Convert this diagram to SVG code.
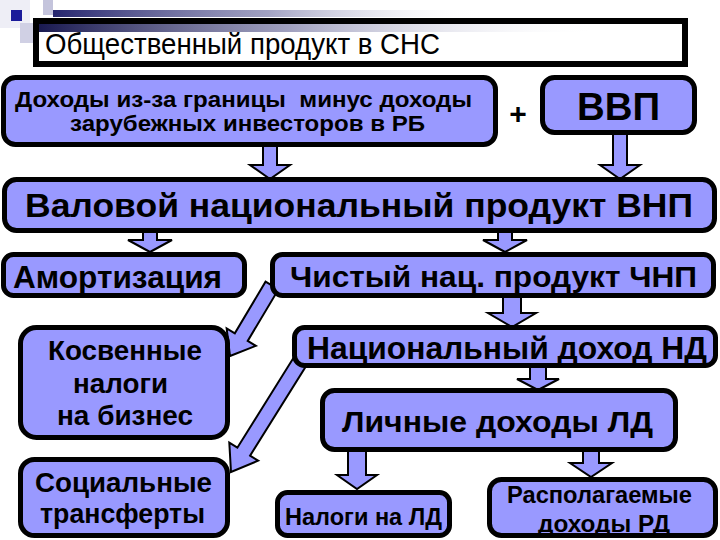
<svg xmlns="http://www.w3.org/2000/svg" width="720" height="540" viewBox="0 0 720 540">
<defs>
<linearGradient id="gTop" x1="0" y1="0" x2="1" y2="0">
<stop offset="0" stop-color="#26266e"/>
<stop offset="0.5" stop-color="#7a7aa8" stop-opacity="0.7"/>
<stop offset="1" stop-color="#ffffff" stop-opacity="0"/>
</linearGradient>
<linearGradient id="gIn" x1="0" y1="0" x2="1" y2="0">
<stop offset="0" stop-color="#1a1a50"/>
<stop offset="0.45" stop-color="#8a8ab0" stop-opacity="0.8"/>
<stop offset="1" stop-color="#ffffff" stop-opacity="0"/>
</linearGradient>
<style>
.box{fill:#9999ff;stroke:#000;stroke-width:5}
.arr{fill:#9999ff;stroke:#000;stroke-width:2;stroke-linejoin:miter}
text{font-family:"Liberation Sans",Arial,sans-serif;fill:#000}
.b{font-weight:bold}
</style>
</defs>
<rect width="720" height="540" fill="#fff"/>
<g id="decor">
<rect x="0" y="0" width="30" height="28" fill="#eeeef6"/>
<rect x="43" y="0" width="10" height="15" fill="#c4c4dc"/>
<rect x="20" y="23" width="13" height="20" fill="#d0d0e4"/>
<rect x="11" y="10" width="11" height="11" fill="#1a1a9a"/>
<rect x="53" y="10" width="430" height="7" fill="url(#gTop)"/>
</g>
<g id="title">
<rect x="36" y="21" width="649" height="43" fill="#fff" stroke="#000" stroke-width="6"/>
<rect x="39" y="24" width="560" height="8" fill="url(#gIn)"/>
<text x="45" y="54" font-size="29" textLength="395" lengthAdjust="spacingAndGlyphs">Общественный продукт в СНС</text>
</g>
<g id="connectors">
<path class="arr" d="M263,144 H277 V165 H290 L270,179 L250,165 H263 Z"/>
<path class="arr" d="M613,132 H627 V165 H640 L620,179 L600,165 H613 Z"/>
<path class="arr" d="M143,230 H157 V240 H172 L150,252 L128,240 H143 Z"/>
<path class="arr" d="M498,230 H512 V240 H527 L505,252 L483,240 H498 Z"/>
<path class="arr" d="M503,295 H521 V313 H536 L512,327 L488,313 H503 Z"/>
<path class="arr" d="M530,365 H546 V379 H559 L538,390 L517,379 H530 Z"/>
<path class="arr" d="M348,449 H366 V475 H377 L357,489 L337,475 H348 Z"/>
<path class="arr" d="M583,449 H599 V463 H612 L591,477 L570,463 H583 Z"/>
<path class="arr" transform="translate(230,356) rotate(30.8)" d="M-7.5,-82 H7.5 V-22 H17 L0,0 L-17,-22 H-7.5 Z"/>
<path class="arr" transform="translate(231,472) rotate(32)" d="M-7.5,-130 H7.5 V-24 H17 L0,0 L-17,-24 H-7.5 Z"/>
</g>
<g id="n-abroad">
<rect class="box" x="3.5" y="77.5" width="492" height="67" rx="12"/>
<text class="b" x="15" y="107" font-size="22" textLength="457" lengthAdjust="spacingAndGlyphs" xml:space="preserve">Доходы из-за границы  минус доходы</text>
<text class="b" x="70" y="131" font-size="22" textLength="355" lengthAdjust="spacingAndGlyphs">зарубежных инвесторов в РБ</text>
</g>
<g id="plus">
<text class="b" x="518" y="124" font-size="30" text-anchor="middle">+</text>
</g>
<g id="n-vvp">
<rect class="box" x="542.5" y="77.5" width="152" height="55" rx="12"/>
<text class="b" x="577" y="120" font-size="38" textLength="83" lengthAdjust="spacingAndGlyphs">ВВП</text>
</g>
<g id="n-vnp">
<rect class="box" x="4.5" y="179.5" width="710" height="51" rx="12"/>
<text class="b" x="25" y="217" font-size="34" textLength="668" lengthAdjust="spacingAndGlyphs">Валовой национальный продукт ВНП</text>
</g>
<g id="n-amort">
<rect class="box" x="3.5" y="254.5" width="241" height="41" rx="10"/>
<text class="b" x="13" y="288" font-size="31" textLength="209" lengthAdjust="spacingAndGlyphs">Амортизация</text>
</g>
<g id="n-chnp">
<rect class="box" x="272.5" y="254.5" width="441" height="41" rx="10"/>
<text class="b" x="290" y="287" font-size="30" textLength="407" lengthAdjust="spacingAndGlyphs">Чистый нац. продукт ЧНП</text>
</g>
<g id="n-kosv">
<rect class="box" x="20.5" y="327.5" width="207" height="110" rx="16"/>
<text class="b" x="48" y="360" font-size="27" textLength="154" lengthAdjust="spacingAndGlyphs">Косвенные</text>
<text class="b" x="73" y="393" font-size="27" textLength="95" lengthAdjust="spacingAndGlyphs">налоги</text>
<text class="b" x="57" y="425" font-size="27" textLength="136" lengthAdjust="spacingAndGlyphs">на бизнес</text>
</g>
<g id="n-social">
<rect class="box" x="20.5" y="459.5" width="207" height="76" rx="14"/>
<text class="b" x="35" y="492" font-size="27" textLength="177" lengthAdjust="spacingAndGlyphs">Социальные</text>
<text class="b" x="40" y="523" font-size="27" textLength="165" lengthAdjust="spacingAndGlyphs">трансферты</text>
</g>
<g id="n-nd">
<rect class="box" x="294.5" y="327.5" width="421" height="38" rx="10"/>
<text class="b" x="307" y="359" font-size="32" textLength="400" lengthAdjust="spacingAndGlyphs">Национальный доход НД</text>
</g>
<g id="n-ld">
<rect class="box" x="322.5" y="390.5" width="353" height="59" rx="12"/>
<text class="b" x="342" y="432" font-size="30" textLength="311" lengthAdjust="spacingAndGlyphs">Личные доходы ЛД</text>
</g>
<g id="n-taxld">
<rect class="box" x="277.5" y="492.5" width="172" height="43" rx="10"/>
<text class="b" x="285" y="525" font-size="23" textLength="157" lengthAdjust="spacingAndGlyphs">Налоги на ЛД</text>
</g>
<g id="n-rd">
<rect class="box" x="489.5" y="479.5" width="226" height="56" rx="12"/>
<text class="b" x="507" y="503" font-size="23" textLength="185" lengthAdjust="spacingAndGlyphs">Располагаемые</text>
<text class="b" x="538" y="532" font-size="23" textLength="132" lengthAdjust="spacingAndGlyphs">доходы РД</text>
</g>
</svg>
